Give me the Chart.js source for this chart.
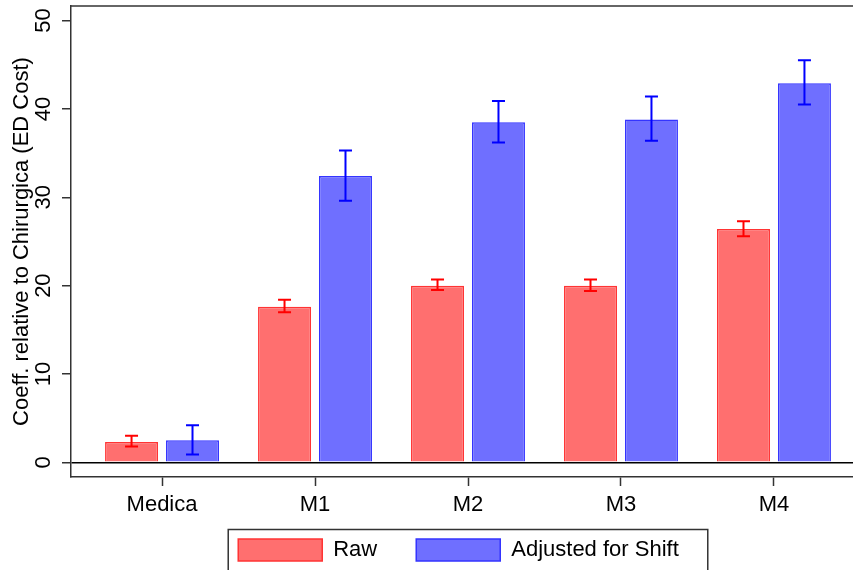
<!DOCTYPE html>
<html>
<head>
<meta charset="utf-8">
<script src="https://cdn.jsdelivr.net/npm/chart.js@4.4.1/dist/chart.umd.min.js"></script>
<style>
  html, body { margin: 0; padding: 0; background: #fff; }
  #wrap { width: 853px; height: 570px; overflow: hidden; position: relative; }
  #chart { position: absolute; left: 0; top: 0; }
</style>
</head>
<body>
<div id="wrap"><canvas id="chart" width="880" height="588"></canvas></div>
<script>
const categories = ['Medica', 'M1', 'M2', 'M3', 'M4'];
const rawValues = [2.3, 17.6, 20.0, 20.0, 26.4];
const rawLow = [1.8, 17.0, 19.5, 19.4, 25.6];
const rawHigh = [3.0, 18.4, 20.7, 20.7, 27.3];
const shiftValues = [2.5, 32.4, 38.5, 38.8, 42.9];
const shiftLow = [0.9, 29.6, 36.2, 36.4, 40.5];
const shiftHigh = [4.2, 35.3, 40.9, 41.4, 45.5];
const yTicks = [0, 10, 20, 30, 40, 50];

const FONT = '"Liberation Sans", Arial, sans-serif';
const AXIS = '#333333';

// whiskers drawn on top of the bars
const errorBars = {
  id: 'errorBars',
  afterDatasetsDraw(chart) {
    const ctx = chart.ctx;
    const y = chart.scales.y;
    chart.data.datasets.forEach((ds, i) => {
      const meta = chart.getDatasetMeta(i);
      ctx.save();
      ctx.strokeStyle = ds.whiskerColor;
      ctx.lineWidth = 2;
      meta.data.forEach((bar, j) => {
        const top = y.getPixelForValue(ds.high[j]);
        const bot = y.getPixelForValue(ds.low[j]);
        ctx.beginPath();
        ctx.moveTo(bar.x, top); ctx.lineTo(bar.x, bot);
        ctx.moveTo(bar.x - 6.5, top); ctx.lineTo(bar.x + 6.5, top);
        ctx.moveTo(bar.x - 6.5, bot); ctx.lineTo(bar.x + 6.5, bot);
        ctx.stroke();
      });
      ctx.restore();
    });
  }
};

// nudge the legend up under the axis labels and a bit to the left
const legendShift = {
  id: 'legendShift',
  afterLayout(chart) {
    const lg = chart.legend;
    lg.top -= 17; lg.bottom -= 17;
    lg.left -= 9.5; lg.right -= 9.5;
  }
};

// top frame line and the box round the legend
const frame = {
  id: 'frame',
  afterDraw(chart) {
    const ctx = chart.ctx;
    const a = chart.chartArea;
    ctx.save();
    ctx.strokeStyle = AXIS;
    ctx.lineWidth = 1.5;
    ctx.beginPath();
    ctx.moveTo(a.left, a.top);
    ctx.lineTo(a.right, a.top);
    ctx.stroke();
    const hb = chart.legend.legendHitBoxes;
    if (hb && hb.length) {
      const first = hb[0], last = hb[hb.length - 1];
      const x0 = first.left - 10;
      const x1 = last.left + last.width + 29;
      ctx.strokeRect(x0, first.top - 9.5, x1 - x0, 100);
    }
    ctx.restore();
  }
};

new Chart(document.getElementById('chart'), {
  type: 'bar',
  data: {
    datasets: [{
      label: 'Raw',
      data: rawValues.map((v, i) => ({ x: i, y: v })),
      low: rawLow,
      high: rawHigh,
      backgroundColor: '#FF6F6F',
      borderColor: '#FF3434',
      whiskerColor: '#FF0000',
      borderWidth: 1.5
    }, {
      label: 'Adjusted for Shift',
      data: shiftValues.map((v, i) => ({ x: i, y: v })),
      low: shiftLow,
      high: shiftHigh,
      backgroundColor: '#6F6FFF',
      borderColor: '#3434FF',
      whiskerColor: '#0000FF',
      borderWidth: 1.5
    }]
  },
  options: {
    responsive: false,
    animation: false,
    categoryPercentage: 0.797,
    barPercentage: 0.869,
    layout: { padding: { top: 6, left: 0, right: 15, bottom: 0 } },
    plugins: {
      tooltip: { enabled: false },
      legend: {
        position: 'bottom',
        fullSize: false,
        labels: {
          boxWidth: 84,
          boxHeight: 22,
          padding: 39,
          color: '#000',
          font: { family: FONT, size: 22 }
        }
      }
    },
    scales: {
      x: {
        type: 'linear',
        offset: false,
        min: -0.595,
        max: 4.595,
        afterBuildTicks: s => { s.ticks = categories.map((c, i) => ({ value: i })); },
        afterFit: s => { s.height = 40; s.paddingLeft = 0; s.paddingRight = 0; },
        grid: { drawOnChartArea: false, offset: false, tickLength: 9, tickColor: AXIS, tickWidth: 1.5 },
        border: { color: AXIS, width: 1.5 },
        ticks: {
          autoSkip: false,
          maxRotation: 0,
          padding: 6,
          color: '#000',
          font: { family: FONT, size: 22 },
          callback: v => categories[v]
        }
      },
      y: {
        min: -1.66,
        max: 51.65,
        afterBuildTicks: s => { s.ticks = yTicks.map(v => ({ value: v })); },
        afterFit: s => { s.width = 71; s.paddingTop = 0; s.paddingBottom = 0; },
        grid: {
          color: c => (c.tick && c.tick.value === 0) ? '#000' : 'rgba(0,0,0,0)',
          lineWidth: 1.5,
          tickLength: 9,
          tickColor: AXIS,
          tickWidth: 1.5
        },
        border: { color: AXIS, width: 1.5 },
        ticks: {
          minRotation: 90,
          maxRotation: 90,
          crossAlign: 'center',
          padding: 6,
          color: '#000',
          font: { family: FONT, size: 22 }
        },
        title: {
          display: true,
          text: 'Coeff. relative to Chirurgica (ED Cost)',
          color: '#000',
          font: { family: FONT, size: 22 },
          padding: { top: 9, bottom: 0 }
        }
      }
    }
  },
  plugins: [errorBars, legendShift, frame]
});
</script>
</body>
</html>
